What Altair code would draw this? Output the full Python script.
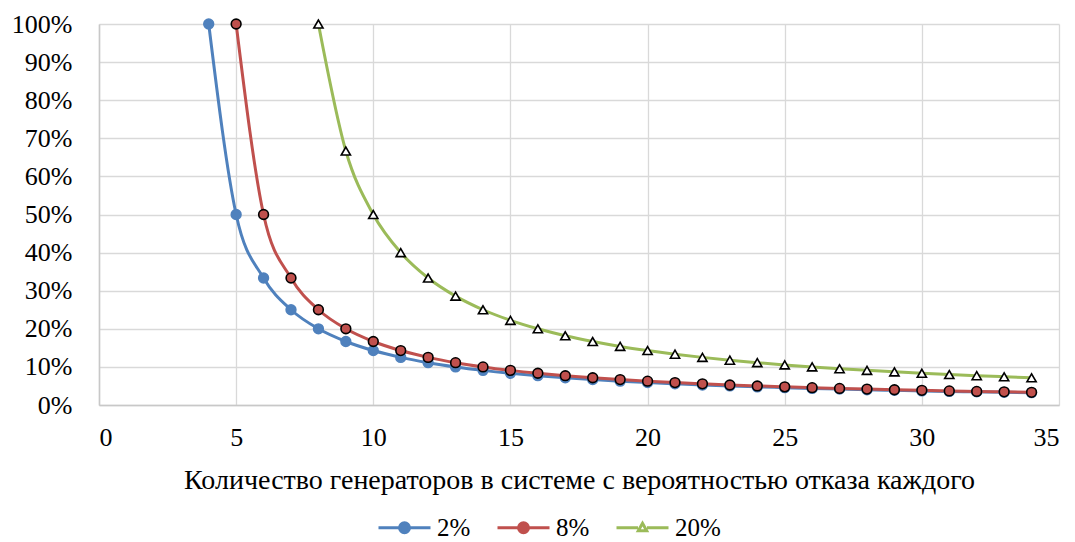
import altair as alt
import pandas as pd

# Data
n_2 = list(range(4, 35))
v_2 = [1.0, 0.5, 0.3333, 0.25, 0.2, 0.1667, 0.1429, 0.125, 0.1111, 0.1, 0.0909,
       0.0833, 0.0769, 0.0714, 0.0667, 0.0625, 0.0588, 0.0556, 0.0526, 0.05,
       0.0476, 0.0455, 0.0435, 0.0417, 0.04, 0.0385, 0.037, 0.0357, 0.0345,
       0.0333, 0.0323]
n_8 = list(range(5, 35))
v_8 = [1.0, 0.5, 0.3333, 0.25, 0.2, 0.1667, 0.1429, 0.125, 0.1111, 0.1, 0.0909,
       0.0833, 0.0769, 0.0714, 0.0667, 0.0625, 0.0588, 0.0556, 0.0526, 0.05,
       0.0476, 0.0455, 0.0435, 0.0417, 0.04, 0.0385, 0.037, 0.0357, 0.0345,
       0.0333]
n_20 = list(range(8, 35))
v_20 = [1.0, 0.6667, 0.5, 0.4, 0.3333, 0.2857, 0.25, 0.2222, 0.2, 0.1818,
        0.1667, 0.1538, 0.1429, 0.1333, 0.125, 0.1176, 0.1111, 0.1053, 0.1,
        0.0952, 0.0909, 0.087, 0.0833, 0.08, 0.0769, 0.0741, 0.0714]

series = ["2%", "8%", "20%"]
line_colors = ["#4F81BD", "#C0504D", "#9BBB59"]
fill_colors = ["#4F81BD", "#C0504D", "#FFFFFF"]
stroke_colors = ["#4F81BD", "#000000", "#000000"]
x_title = "Количество генераторов в системе с вероятностью отказа каждого"

rows = []
for s, ns, vs in zip(series, [n_2, n_8, n_20], [v_2, v_8, v_20]):
    for n, v in zip(ns, vs):
        rows.append({"n": n, "p": v, "series": s})
df = pd.DataFrame(rows)

FONT = "Liberation Serif"

x_enc = alt.X("n:Q", scale=alt.Scale(domain=[0, 35], nice=False),
              axis=alt.Axis(values=[0, 5, 10, 15, 20, 25, 30, 35], title=x_title,
                            labelFontSize=26, titleFontSize=28, labelPadding=19,
                            titlePadding=16, titleFontWeight="normal"))
y_enc = alt.Y("p:Q", scale=alt.Scale(domain=[0, 1], nice=False),
              axis=alt.Axis(values=[i / 10 for i in range(11)], format=".0%", title=None,
                            labelFontSize=26, labelPadding=27))

color_scale = alt.Scale(domain=series, range=line_colors)
fill_scale = alt.Scale(domain=series, range=fill_colors)
stroke_scale = alt.Scale(domain=series, range=stroke_colors)

# legend symbol paths: line + marker
circ_path = ("M-2.6,0H-0.5M0.5,0H2.6"
             "M0.5,0A0.5,0.5 0 1,1 -0.5,0A0.5,0.5 0 1,1 0.5,0Z")
tri_path = ("M-2.6,0H-0.45M0.45,0H2.6"
            "M0,-0.45L0.42,0.3L-0.42,0.3Z")
shape_scale = alt.Scale(domain=series, range=[circ_path, circ_path, tri_path])

LEG = alt.Legend(title=None, orient="none", direction="horizontal",
                 legendX=293, legendY=491, labelFontSize=25,
                 labelFont=FONT, symbolSize=400, symbolStrokeWidth=3,
                 labelOffset=20, columnPadding=20, symbolOpacity=1)

base = alt.Chart(df)

lines = base.mark_line(strokeWidth=3, interpolate="monotone").encode(
    x=x_enc, y=y_enc,
    color=alt.Color("series:N", scale=color_scale, legend=LEG),
    detail="series:N",
)

circles = base.transform_filter("datum.series != '20%'").mark_point(
    shape="circle", size=95, opacity=1, strokeWidth=1.6, filled=False
).encode(
    x=x_enc, y=y_enc,
    fill=alt.Fill("series:N", scale=fill_scale, legend=LEG),
    stroke=alt.Stroke("series:N", scale=stroke_scale, legend=None),
)

triangles = base.transform_filter("datum.series == '20%'").mark_point(
    shape="triangle-up", size=85, opacity=1, strokeWidth=1.6, filled=False
).encode(
    x=x_enc, y=y_enc,
    fill=alt.Fill("series:N", scale=fill_scale, legend=LEG),
    stroke=alt.Stroke("series:N", scale=stroke_scale, legend=None),
)

legend_layer = base.transform_filter("false").mark_point(
    size=400, opacity=1, strokeWidth=3, filled=False
).encode(
    x=x_enc, y=y_enc,
    color=alt.Color("series:N", scale=color_scale, legend=LEG),
    fill=alt.Fill("series:N", scale=fill_scale, legend=LEG),
    shape=alt.Shape("series:N", scale=shape_scale, legend=LEG),
)

chart = alt.layer(lines, circles, triangles, legend_layer).properties(
    width=960, height=381,
    autosize=alt.AutoSizeParams(type="none"),
    padding={"left": 99, "top": 24, "right": 16, "bottom": 137},
).configure_view(stroke=None).configure_axis(
    labelFont=FONT, titleFont=FONT, labelColor="#000000", titleColor="#000000",
    gridColor="#D9D9D9", gridWidth=1.3, domainColor="#C8C8C8", domainWidth=1.5,
    ticks=False,
)

chart.save("out.html", embed_options={"renderer": "svg", "actions": False})
